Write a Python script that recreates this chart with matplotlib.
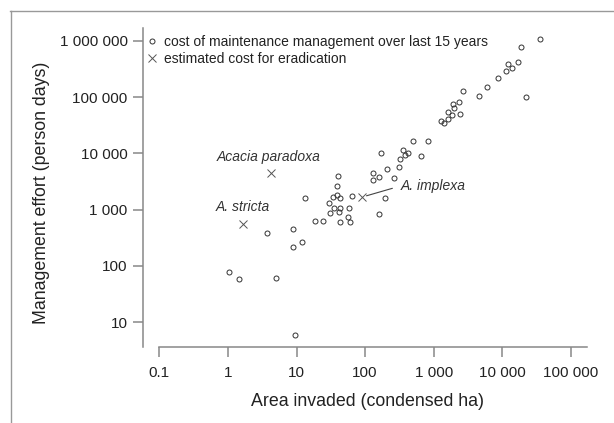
import numpy as np
import matplotlib
matplotlib.use('Agg')
import matplotlib.pyplot as plt
from matplotlib.lines import Line2D

plt.rcParams['font.family'] = ['Liberation Sans', 'DejaVu Sans']

# maintenance cost points: area invaded (ha) vs effort (person days)
area = [1.04, 1.44, 3.68, 5.08, 8.97, 8.97, 12.0, 9.5, 13.3, 18.6,
        24.1, 30.8, 29.4, 34.4, 38.5, 43.1, 38.5, 39.9, 35.6, 43.1,
        41.2, 57.7, 56.4, 60.9, 42.6, 65.0, 195, 161, 130, 129,
        157, 171, 211, 261, 307, 323, 351, 385, 418, 653,
        494, 834, 1291, 1404, 1633, 1817, 1617, 1933, 1959, 2324,
        2417, 2674, 4527, 5984, 8513, 11140, 12110, 13990, 16830, 18540,
        35810, 21930]
effort = [78, 58, 390, 62, 445, 217, 267, 5.9, 1633, 638,
          638, 863, 1330, 1702, 1824, 1633, 2636, 3972, 1059, 1059,
          921, 1059, 733, 597, 597, 1750, 1614, 839, 4540, 3300,
          3775, 10040, 5220, 3730, 5780, 7960, 11480, 9380, 10040, 8990,
          16830, 16830, 36900, 35100, 54800, 47500, 40000, 76400, 65300, 81900,
          49100, 127400, 103300, 149300, 221300, 293100, 379300, 325900, 412300, 776500,
          1064000, 101600]

# eradication estimates
erad_names = ['Acacia paradoxa', 'A. stricta', 'A. implexa']
erad_area = [4.25, 1.64, 91.6]
erad_effort = [4540, 551, 1683]

xticks = [0.1, 1, 10, 100, 1e3, 1e4, 1e5]
xticklabels = ['0.1', '1', '10', '100', '1 000', '10 000', '100 000']
yticks = [10, 100, 1e3, 1e4, 1e5, 1e6]
yticklabels = ['10', '100', '1 000', '10 000', '100 000', '1 000 000']

fig = plt.figure(figsize=(6.14, 4.23), dpi=100)
ax = fig.add_axes([143/614, 76/423, 457/614, 319/423])

ax.plot(area, effort, 'o', ms=3.6, mfc='none', mec='#333333', mew=0.7,
        label='cost of maintenance management over last 15 years')
ax.plot(erad_area, erad_effort, 'x', ms=5.5, mec='#555555', mew=0.7,
        label='estimated cost for eradication')

# species labels
offsets = [(-2, 16), (0, 17), (38, 11)]
for name, xa, ya, off in zip(erad_names, erad_area, erad_effort, offsets):
    if name == 'A. implexa':
        ax.annotate(name, (xa, ya), xytext=off, textcoords='offset pixels',
                    ha='left', va='center', fontsize=10, style='italic',
                    color='#333333',
                    arrowprops=dict(arrowstyle='-', lw=0.8, color='#444444',
                                    relpos=(0, 0.5), shrinkA=4, shrinkB=3))
    else:
        ax.annotate(name, (xa, ya), xytext=off, textcoords='offset pixels',
                    ha='center', va='center', fontsize=10, style='italic',
                    color='#333333')

ax.set_xscale('log')
ax.set_yscale('log')
ax.set_xlim(10**-1.2376, 10**5.424)
ax.set_ylim(10**0.5613, 10**6.227)
ax.set_xticks(xticks)
ax.set_xticklabels(xticklabels)
ax.set_yticks(yticks)
ax.set_yticklabels(yticklabels)
ax.minorticks_off()

for side in ['top', 'right']:
    ax.spines[side].set_visible(False)
ax.spines['bottom'].set_bounds(0.1, 10**5.2376)
for side in ['left', 'bottom']:
    ax.spines[side].set_color('#888888')
    ax.spines[side].set_linewidth(1.1)
ax.tick_params(axis='both', colors='#888888', labelcolor='#222222',
               labelsize=11, width=1.1)
ax.tick_params(axis='y', length=7.5, pad=3.5)
ax.tick_params(axis='x', length=7, pad=7)

ax.set_xlabel('Area invaded (condensed ha)', fontsize=12.8, color='#222222')
ax.set_ylabel('Management effort (person days)', fontsize=12.8,
              color='#222222')
ax.xaxis.set_label_coords(0.492, -0.145)
ax.yaxis.set_label_coords(-0.2035, 0.484)

leg = ax.legend(loc='upper left', bbox_to_anchor=(0.0098, 0.977),
                frameon=False, fontsize=10, handlelength=0.6,
                handletextpad=0.6, labelspacing=0.2, borderpad=0,
                borderaxespad=0)
for t in leg.get_texts():
    t.set_color('#222222')

# outer frame (partial, as in the source figure)
fig.add_artist(Line2D([10/614, 1], [1 - 11/423, 1 - 11/423],
                      transform=fig.transFigure, color='#999999', lw=1))
fig.add_artist(Line2D([11/614, 11/614], [0, 1 - 11/423],
                      transform=fig.transFigure, color='#999999', lw=1))

fig.savefig('out.png', dpi=100)
